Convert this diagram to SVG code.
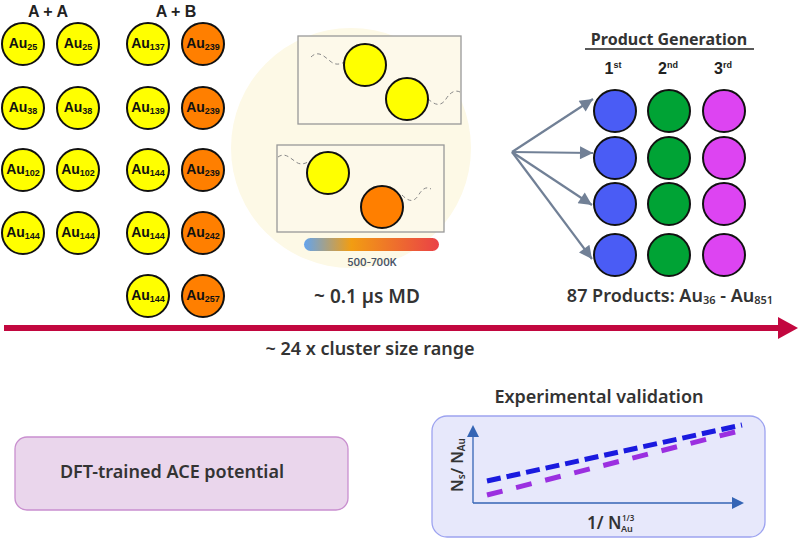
<svg xmlns="http://www.w3.org/2000/svg" width="800" height="539" viewBox="0 0 800 539">
<defs>
<style>
.au{font-family:"Liberation Sans",Arial,sans-serif;font-weight:bold;font-size:14px;fill:#111;text-anchor:middle}
.au tspan{font-size:9px}
.y{fill:#ffff00;stroke:#111;stroke-width:2}
.o{fill:#ff7f00;stroke:#111;stroke-width:2}
.b{fill:#4a5cf5;stroke:#111;stroke-width:2}
.g{fill:#00a335;stroke:#111;stroke-width:2}
.m{fill:#dd44f2;stroke:#111;stroke-width:2}
.hd{font-family:"Liberation Sans",Arial,sans-serif;font-weight:bold;font-size:16px;fill:#222;text-anchor:middle}
.ub{font-family:"Noto Sans",sans-serif;fill:#333;text-anchor:middle}
.st{text-anchor:start}
.wave{fill:none;stroke:#888;stroke-width:1;stroke-dasharray:4 3}
.box{fill:#fdf9ea;stroke:#999;stroke-width:1.3}
.pa{stroke:#718096;stroke-width:2.2;fill:none}
</style>
<linearGradient id="temp" x1="0" x2="1" y1="0" y2="0">
<stop offset="0" stop-color="#63a4ee"/>
<stop offset="0.35" stop-color="#f29d12"/>
<stop offset="1" stop-color="#ea4147"/>
</linearGradient>
<marker id="ah" viewBox="0 0 10 10" refX="10" refY="5" markerWidth="16" markerHeight="13" markerUnits="userSpaceOnUse" orient="auto">
<path d="M0,0 L10,5 L0,10 z" fill="#718096"/>
</marker>
</defs>
<rect width="800" height="539" fill="#ffffff"/>

<g id="titles">
<text class="hd" x="48" y="17" font-size="17">A + A</text>
<text class="hd" x="176" y="17" font-size="17">A + B</text>
</g>

<g id="pairs-AA">
<circle class="y" cx="23" cy="44" r="21"/><text class="au" x="23" y="48">Au<tspan dy="2">25</tspan></text>
<circle class="y" cx="78" cy="44" r="21"/><text class="au" x="78" y="48">Au<tspan dy="2">25</tspan></text>
<circle class="y" cx="23" cy="108" r="21"/><text class="au" x="23" y="112">Au<tspan dy="2">38</tspan></text>
<circle class="y" cx="78" cy="108" r="21"/><text class="au" x="78" y="112">Au<tspan dy="2">38</tspan></text>
<circle class="y" cx="23" cy="170" r="21"/><text class="au" x="23" y="174">Au<tspan dy="2">102</tspan></text>
<circle class="y" cx="78" cy="170" r="21"/><text class="au" x="78" y="174">Au<tspan dy="2">102</tspan></text>
<circle class="y" cx="23" cy="233" r="21"/><text class="au" x="23" y="237">Au<tspan dy="2">144</tspan></text>
<circle class="y" cx="78" cy="233" r="21"/><text class="au" x="78" y="237">Au<tspan dy="2">144</tspan></text>
</g>

<g id="pairs-AB">
<circle class="y" cx="148" cy="44" r="21"/><text class="au" x="148" y="48">Au<tspan dy="2">137</tspan></text>
<circle class="o" cx="203" cy="44" r="21"/><text class="au" x="203" y="48">Au<tspan dy="2">239</tspan></text>
<circle class="y" cx="148" cy="108" r="21"/><text class="au" x="148" y="112">Au<tspan dy="2">139</tspan></text>
<circle class="o" cx="203" cy="108" r="21"/><text class="au" x="203" y="112">Au<tspan dy="2">239</tspan></text>
<circle class="y" cx="148" cy="170" r="21"/><text class="au" x="148" y="174">Au<tspan dy="2">144</tspan></text>
<circle class="o" cx="203" cy="170" r="21"/><text class="au" x="203" y="174">Au<tspan dy="2">239</tspan></text>
<circle class="y" cx="148" cy="233" r="21"/><text class="au" x="148" y="237">Au<tspan dy="2">144</tspan></text>
<circle class="o" cx="203" cy="233" r="21"/><text class="au" x="203" y="237">Au<tspan dy="2">242</tspan></text>
<circle class="y" cx="148" cy="296" r="21"/><text class="au" x="148" y="300">Au<tspan dy="2">144</tspan></text>
<circle class="o" cx="203" cy="296" r="21"/><text class="au" x="203" y="300">Au<tspan dy="2">257</tspan></text>
</g>

<g id="md-simulation">
<circle cx="351" cy="148" r="120" fill="#fdf9e6"/>
<rect class="box" x="298" y="36" width="163" height="88"/>
<path class="wave" d="M311,57 C318,50 324,56 330,61 C336,66 340,64 345,62"/>
<path class="wave" d="M428,99 C434,104 440,108 446,99 C451,91 456,90 460,92"/>
<circle class="y" cx="365" cy="65" r="21"/>
<circle class="y" cx="407" cy="99" r="21"/>
<rect class="box" x="277" y="145" width="167" height="87"/>
<path class="wave" d="M278,157 C285,152 290,158 296,162 C300,165 304,164 308,162"/>
<path class="wave" d="M402,195 C408,201 413,203 418,196 C422,189 426,186 431,189"/>
<circle class="y" cx="328" cy="173" r="21"/>
<circle class="o" cx="382" cy="207" r="21"/>
<rect x="304" y="238" width="135" height="13" rx="6.5" fill="url(#temp)"/>
<text x="372" y="266" font-family="Inter,'Noto Sans',sans-serif" font-weight="600" font-size="10" fill="#4a5568" text-anchor="middle">500-700K</text>
<text class="ub" x="367" y="303" font-size="19" font-weight="600">~ 0.1 µs MD</text>
</g>

<g id="connectors">
<line class="pa" x1="512" y1="152" x2="593" y2="99" marker-end="url(#ah)"/>
<line class="pa" x1="512" y1="152" x2="593" y2="153" marker-end="url(#ah)"/>
<line class="pa" x1="512" y1="152" x2="592" y2="205" marker-end="url(#ah)"/>
<line class="pa" x1="512" y1="152" x2="592" y2="259" marker-end="url(#ah)"/>
<line x1="4" y1="328" x2="780" y2="328" stroke="#c2073f" stroke-width="6"/>
<path d="M778,317 L798,328 L778,339 z" fill="#c2073f"/>
</g>

<g id="products">
<text class="ub" x="669" y="45" font-size="16" font-weight="700" fill="#222">Product Generation</text>
<line x1="585" y1="49" x2="754" y2="49" stroke="#222" stroke-width="1.3"/>
<text class="hd" x="613" y="74" font-size="15">1<tspan font-size="9" dy="-6">st</tspan></text>
<text class="hd" x="668" y="74" font-size="15">2<tspan font-size="9" dy="-6">nd</tspan></text>
<text class="hd" x="723" y="74" font-size="15">3<tspan font-size="9" dy="-6">rd</tspan></text>
<circle class="b" cx="615" cy="111" r="21"/><circle class="g" cx="669" cy="111" r="21"/><circle class="m" cx="724" cy="111" r="21"/>
<circle class="b" cx="615" cy="158" r="21"/><circle class="g" cx="669" cy="158" r="21"/><circle class="m" cx="724" cy="158" r="21"/>
<circle class="b" cx="615" cy="204" r="21"/><circle class="g" cx="669" cy="204" r="21"/><circle class="m" cx="724" cy="204" r="21"/>
<circle class="b" cx="615" cy="255" r="21"/><circle class="g" cx="669" cy="255" r="21"/><circle class="m" cx="724" cy="255" r="21"/>
<text class="ub" x="670" y="302" font-size="18" font-weight="600">87 Products: Au<tspan font-size="11" dy="2">36</tspan><tspan dy="-2"> - Au</tspan><tspan font-size="11" dy="2">851</tspan></text>
</g>

<g id="size-range">
<text class="ub" x="370" y="355" font-size="18" font-weight="600" fill="#222">~ 24 x cluster size range</text>
</g>

<g id="ace-potential">
<rect x="15" y="437" width="333" height="73" rx="12" fill="#ead6ec" stroke="#c98fcf" stroke-width="1.3"/>
<text class="ub" x="172" y="478" font-size="18" font-weight="600" fill="#2d1b33">DFT-trained ACE potential</text>
</g>

<g id="validation">
<text class="ub" x="599" y="403" font-size="18" font-weight="600">Experimental validation</text>
<rect x="432" y="416" width="333" height="121" rx="15" fill="#e7e8fb" stroke="#9da3f0" stroke-width="1.3"/>
<line x1="473" y1="503" x2="473" y2="436" stroke="#3565b5" stroke-width="1.3"/>
<path d="M467,437 L473,425 L479,437 z" fill="#3565b5"/>
<line x1="473" y1="503" x2="733" y2="503" stroke="#3565b5" stroke-width="1.3"/>
<path d="M732,497 L744,503 L732,509 z" fill="#3565b5"/>
<line x1="487" y1="481" x2="742" y2="425" stroke="#1a1adf" stroke-width="5" stroke-dasharray="14 6"/>
<line x1="487" y1="495" x2="743" y2="430" stroke="#9b2fe0" stroke-width="5" stroke-dasharray="16 14"/>
<text transform="translate(463,465) rotate(-90)" class="ub" font-size="16" font-weight="600">N<tspan font-size="10" dy="2">s</tspan><tspan dy="-2">/ N</tspan><tspan font-size="10" dy="2">Au</tspan></text>
<text class="ub st" x="587" y="529" font-size="17" font-weight="600">1/ N</text>
<text class="ub st" x="622" y="521" font-size="8" font-weight="600">1/3</text>
<text class="ub st" x="621" y="532" font-size="9" font-weight="600">Au</text>
</g>
</svg>
